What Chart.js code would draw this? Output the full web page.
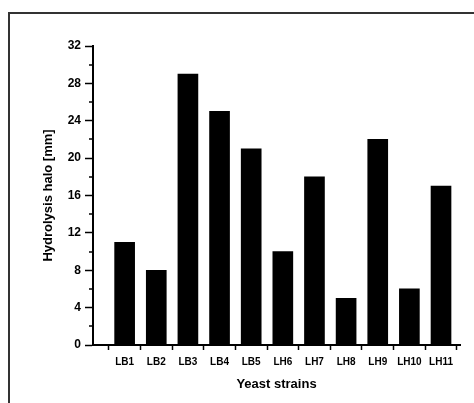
<!DOCTYPE html>
<html>
<head>
<meta charset="utf-8">
<script src="https://cdn.jsdelivr.net/npm/chart.js@4/dist/chart.umd.min.js"></script>
<style>
  html, body { margin: 0; padding: 0; background: #fff; }
  #wrap { width: 474px; height: 403px; position: relative; }
</style>
</head>
<body>
<div id="wrap"><canvas id="chart" width="474" height="403"></canvas></div>
<script>
'use strict'

var strains = ['LB1', 'LB2', 'LB3', 'LB4', 'LB5', 'LH6', 'LH7', 'LH8', 'LH9', 'LH10', 'LH11'];
var haloMm = [11, 8, 29, 25, 21, 10, 18, 5, 22, 6, 17];
var yTicks = [0, 4, 8, 12, 16, 20, 24, 28, 32];
var yMinor = [2, 6, 10, 14, 18, 22, 26, 30];

var FONT = 'Arial, "Liberation Sans", sans-serif';

//------------- frame round the figure ------------- //
var framePlugin = {
  id: 'frame',
  beforeDraw: function(chart) {
    var c = chart.ctx;
    c.save();
    c.strokeStyle = '#333';
    c.lineWidth = 2;
    c.strokeRect(9, 13, 700, 700);
    c.restore();
  }
};

//------------- short minor ticks on y ------------- //
var minorTicks = {
  id: 'minorTicks',
  afterDraw: function(chart) {
    var y = chart.scales.y;
    var c = chart.ctx;
    c.save();
    c.strokeStyle = '#000';
    c.lineWidth = 1.5;
    yMinor.forEach(function(v) {
      var py = Math.round(y.getPixelForValue(v));
      c.beginPath();
      c.moveTo(y.right - 4, py);
      c.lineTo(y.right, py);
      c.stroke();
    });
    c.restore();
  }
};

function initChart() {
  var ctx = document.getElementById('chart').getContext('2d');
  var points = haloMm.map(function(v, i) { return { x: i + 1, y: v }; });

  new Chart(ctx, {
    type: 'bar',
    data: {
      datasets: [{
        label: 'Hydrolysis halo',
        data: points,
        backgroundColor: '#000',
        borderWidth: 0,
        barThickness: 20
      }]
    },
    options: {
      responsive: false,
      animation: false,
      layout: { padding: { left: 0, top: 46, right: 14, bottom: 0 } },
      plugins: { legend: { display: false }, tooltip: { enabled: false } },
      scales: {
        x: {
          type: 'linear',
          offset: false,
          min: 0,
          max: 11.6,
          afterBuildTicks: function(scale) {
            var t = [];
            for (var k = 0; k <= strains.length * 2; k++) t.push({ value: 0.5 + k * 0.5 });
            scale.ticks = t;
          },
          afterFit: function(scale) { scale.height = 58; scale.paddingLeft = 0; scale.paddingRight = 0; },
          border: { color: '#000', width: 2 },
          grid: {
            offset: false,
            drawOnChartArea: false,
            tickLength: 5,
            tickWidth: 1.5,
            tickColor: function(c) {
              return c.tick && Number.isInteger(c.tick.value) ? 'rgba(0,0,0,0)' : '#000';
            }
          },
          ticks: {
            autoSkip: false,
            maxRotation: 0,
            padding: 6,
            color: '#000',
            font: { family: FONT, size: 10, weight: 'bold' },
            callback: function(v) {
              return Number.isInteger(v) ? strains[v - 1] : '';
            }
          },
          title: {
            display: true,
            text: 'Yeast strains',
            color: '#000',
            font: { family: FONT, size: 13, weight: 'bold' },
            padding: { top: 0, bottom: 11 }
          }
        },
        y: {
          min: 0,
          max: 32,
          afterBuildTicks: function(scale) {
            scale.ticks = yTicks.map(function(v) { return { value: v }; });
          },
          afterFit: function(scale) { scale.width = 93; },
          border: { color: '#000', width: 2 },
          grid: {
            drawOnChartArea: false,
            tickLength: 8,
            tickWidth: 1.5,
            tickColor: '#000'
          },
          ticks: {
            padding: 4,
            color: '#000',
            font: { family: FONT, size: 12, weight: 'bold' }
          },
          title: {
            display: true,
            text: 'Hydrolysis halo [mm]',
            color: '#000',
            font: { family: FONT, size: 13, weight: 'bold' },
            padding: { top: 41, bottom: 0 }
          }
        }
      }
    },
    plugins: [framePlugin, minorTicks]
  });
}

initChart();
</script>
</body>
</html>
